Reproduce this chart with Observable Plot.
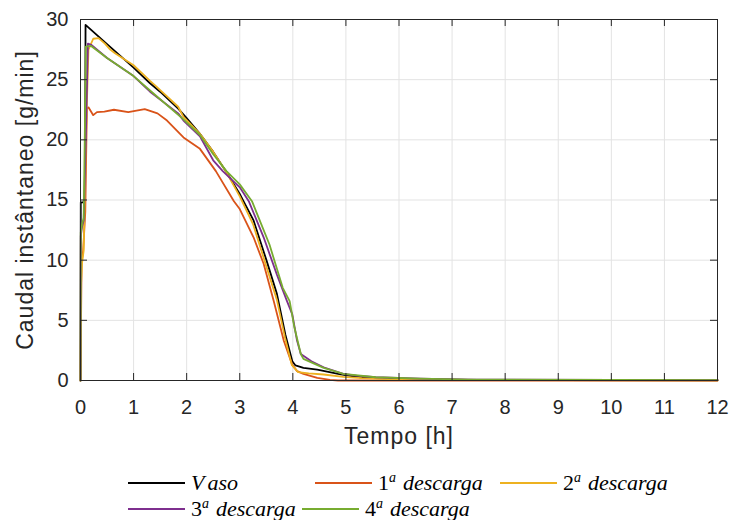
<!DOCTYPE html>
<html>
<head>
<meta charset="utf-8">
<script src="https://cdn.jsdelivr.net/npm/d3@7"></script>
<script src="https://cdn.jsdelivr.net/npm/@observablehq/plot@0.6"></script>
<style>
  body { margin: 0; background: #fff; }
  #wrap { position: relative; width: 733px; height: 520px; overflow: hidden; }
  #legend { position: absolute; left: 0; top: 455px; width: 733px; height: 65px; }
  .item { position: absolute; display: flex; align-items: center; height: 26px;
          font-family: "Liberation Serif", "DejaVu Serif", serif; font-size: 22px; color: #000; white-space: nowrap; }
  .sw { display: inline-block; width: 57px; height: 2px; margin-right: 6px; }
  .it { font-style: italic; }
  sup { font-size: 14px; font-style: italic; vertical-align: 8px; line-height: 0; }
</style>
</head>
<body>
<div id="wrap"><div id="chart"></div><div id="legend"></div></div>
<script>
const xTicks = [0, 1, 2, 3, 4, 5, 6, 7, 8, 9, 10, 11, 12];
const yTicks = [0, 5, 10, 15, 20, 25, 30];
const xLabel = "Tempo [h]";
const yLabel = "Caudal instântaneo [g/min]";

const seriesNames = ["Vaso", "1ª descarga", "2ª descarga", "3ª descarga", "4ª descarga"];
const seriesColors = ["#000000", "#D95319", "#EDB120", "#7E2F8E", "#77AC30"];

const vasoT = [0, 0.005, 0.05, 0.085, 0.095, 0.5, 1.0, 1.31, 1.5, 1.84, 2.0, 2.25, 2.5, 2.75, 3.0, 3.07, 3.26, 3.51, 3.7, 3.86, 3.99, 4.05, 4.2, 4.46, 4.9, 5.3, 5.8, 6.5, 7.5, 9, 12];
const vasoV = [0, 14.8, 14.8, 15.0, 29.55, 27.95, 26.0, 24.7, 24.0, 22.6, 21.8, 20.5, 19.0, 17.3, 15.5, 14.9, 13.3, 9.9, 7.2, 3.8, 1.6, 1.25, 1.05, 0.9, 0.5, 0.25, 0.15, 0.1, 0.05, 0.03, 0.02];

const d1T = [0, 0.02, 0.05, 0.09, 0.12, 0.15, 0.24, 0.31, 0.45, 0.63, 0.9, 1.21, 1.31, 1.45, 1.63, 1.94, 2.25, 2.55, 2.89, 3.0, 3.26, 3.45, 3.64, 3.83, 3.99, 4.08, 4.2, 4.46, 4.7, 4.85, 6, 12];
const d1V = [0, 9.8, 10.8, 14, 22.6, 22.7, 22.05, 22.3, 22.35, 22.5, 22.3, 22.55, 22.4, 22.2, 21.6, 20.2, 19.25, 17.4, 14.9, 14.25, 11.9, 9.7, 6.6, 3.3, 1.3, 0.78, 0.55, 0.22, 0.05, 0.0, 0.0, 0.0];

const d2T = [0, 0.01, 0.03, 0.06, 0.1, 0.15, 0.24, 0.34, 0.46, 0.56, 0.65, 1.0, 1.31, 1.4, 1.84, 1.94, 2.25, 2.5, 2.75, 3.0, 3.25, 3.5, 3.7, 3.85, 3.98, 4.1, 4.3, 4.58, 4.95, 5.3, 5.8, 6.5, 7.5, 12];
const d2V = [0, 8, 9.8, 10.8, 20, 27.5, 28.4, 28.45, 28.0, 27.5, 27.2, 26.2, 24.9, 24.55, 22.75, 21.9, 20.5, 19.0, 17.3, 15.3, 13.0, 9.5, 6.7, 3.6, 1.3, 0.7, 0.6, 0.5, 0.3, 0.2, 0.12, 0.08, 0.04, 0.02];

const d3T = [0, 0.005, 0.03, 0.06, 0.1, 0.14, 0.2, 0.5, 1.0, 1.31, 1.84, 1.94, 2.25, 2.5, 2.68, 3.0, 3.17, 3.45, 3.7, 3.89, 3.99, 4.08, 4.15, 4.35, 4.58, 4.95, 5.2, 5.56, 6.4, 7.3, 12];
const d3V = [0, 12, 12.8, 13.3, 20, 28.0, 27.9, 26.8, 25.3, 24.0, 22.2, 21.6, 20.3, 18.3, 17.4, 16.05, 14.9, 11.9, 8.8, 6.6, 5.5, 3.3, 2.2, 1.6, 1.1, 0.55, 0.4, 0.27, 0.15, 0.07, 0.03];

const d4T = [0, 0.005, 0.03, 0.06, 0.08, 0.1, 0.2, 0.5, 1.0, 1.31, 1.94, 2.25, 2.5, 2.75, 3.0, 3.23, 3.56, 3.81, 3.94, 4.03, 4.15, 4.2, 4.58, 4.95, 5.56, 6.4, 7.3, 12];
const d4V = [0, 12.3, 13.0, 13.5, 20, 27.75, 27.8, 26.8, 25.3, 24.1, 21.7, 20.4, 18.8, 17.4, 16.3, 14.9, 11.3, 7.7, 6.6, 4.4, 2.2, 1.8, 1.05, 0.55, 0.27, 0.15, 0.07, 0.03];

const seriesT = [vasoT, d1T, d2T, d3T, d4T];
const seriesV = [vasoV, d1V, d2V, d3V, d4V];
const data = seriesNames.flatMap((name, k) => seriesT[k].map((t, i) => ({t, v: seriesV[k][i], s: name})));

const W = 733, H = 455, ML = 80, MR = 16, MT = 19, MB = 75;
const fw = W - ML - MR, fh = H - MT - MB, tl = 7;
const ink = "#262626";

const plot = Plot.plot({
  width: W, height: H,
  marginLeft: ML, marginRight: MR, marginTop: MT, marginBottom: MB,
  style: {fontFamily: "'Liberation Sans', Arial, sans-serif", color: ink, background: "#fff"},
  x: {domain: [0, 12], label: null},
  y: {domain: [0, 30], label: null},
  color: {domain: seriesNames, range: seriesColors},
  marks: [
    Plot.gridX(xTicks, {stroke: "#e3e3e3", strokeOpacity: 1, strokeWidth: 1}),
    Plot.gridY(yTicks, {stroke: "#e3e3e3", strokeOpacity: 1, strokeWidth: 1}),
    Plot.line(data, {x: "t", y: "v", z: "s", stroke: "s", strokeWidth: 1.8, curve: "linear"}),
    Plot.frame({stroke: ink, strokeWidth: 1}),
    Plot.tickX(xTicks, {x: d => d, insetTop: fh - tl, stroke: ink}),
    Plot.tickX(xTicks, {x: d => d, insetBottom: fh - tl, stroke: ink}),
    Plot.tickY(yTicks, {y: d => d, insetRight: fw - tl, stroke: ink}),
    Plot.tickY(yTicks, {y: d => d, insetLeft: fw - tl, stroke: ink}),
    Plot.axisX(xTicks, {tickSize: 0, tickPadding: 19, fontSize: 20, label: null}),
    Plot.axisY(yTicks, {tickSize: 0, tickPadding: 12, fontSize: 20, label: null}),
    Plot.text([xLabel], {frameAnchor: "bottom", dy: 63, text: d => d, fontSize: 23, fill: ink, textAnchor: "middle"}),
    Plot.text([yLabel], {frameAnchor: "left", dx: -55, rotate: -90, text: d => d, fontSize: 23, fill: ink, textAnchor: "middle"})
  ]
});
d3.select(plot).selectAll("text").filter(function() {
  return this.textContent === xLabel || this.textContent === yLabel;
}).style("letter-spacing", "1px");
document.getElementById("chart").appendChild(plot);

// Legend
const legendPos = [
  [128, 28], [315, 28], [500, 28],
  [128, 54], [302, 54]
];
const legend = document.getElementById("legend");
seriesNames.forEach((name, k) => {
  const div = document.createElement("div");
  div.className = "item";
  div.style.left = legendPos[k][0] + "px";
  div.style.top = (legendPos[k][1] - 13) + "px";
  const sw = document.createElement("span");
  sw.className = "sw";
  sw.style.background = seriesColors[k];
  div.appendChild(sw);
  const lab = document.createElement("span");
  if (k === 0) {
    lab.innerHTML = '<span class="it" style="margin-right:3px">V</span><span class="it">aso</span>';
  } else {
    const [num, rest] = name.split("ª");
    lab.innerHTML = num + '<sup>a</sup><span class="it" style="margin-left:7px">' + rest.trim() + '</span>';
  }
  div.appendChild(lab);
  legend.appendChild(div);
});
</script>
</body>
</html>
